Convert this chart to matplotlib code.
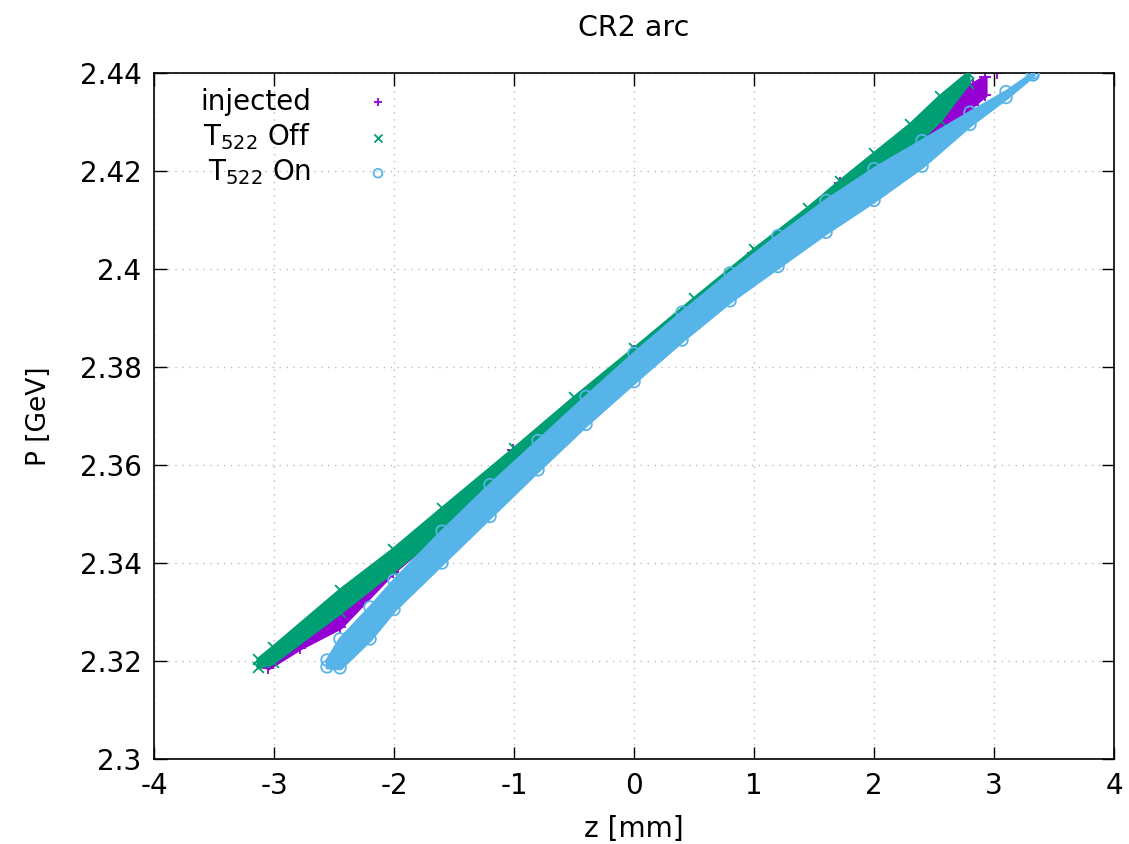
import matplotlib
matplotlib.use("Agg")
import matplotlib.pyplot as plt

# edges of each scattered band: z [mm], P [GeV]
inj_z = [-3.05, -2.783, -2.45, -2.008, -1.008, 0.0, 0.992, 1.717, 2.217, 2.55, 2.825, 2.925]
inj_hi = [2.3200, 2.3262, 2.3335, 2.3415, 2.3630, 2.3832, 2.4032, 2.4175, 2.4262, 2.4325, 2.4378, 2.4392]
inj_lo = [2.3186, 2.3227, 2.3269, 2.3382, 2.3590, 2.3785, 2.3985, 2.4125, 2.4222, 2.4278, 2.4335, 2.4355]
inj_extra_z = [3.025]
inj_extra_p = [2.4400]

off_z = [-3.133, -3.008, -2.45, -2.008, -1.6, -1.0, -0.5, 0.0, 0.5, 1.0, 1.45, 1.717, 2.0, 2.3, 2.55, 2.783]
off_hi = [2.3204, 2.3229, 2.3345, 2.3428, 2.3512, 2.3634, 2.3738, 2.3838, 2.3940, 2.4040, 2.4125, 2.4180, 2.4236, 2.4295, 2.4353, 2.4400]
off_lo = [2.3188, 2.3198, 2.3300, 2.3385, 2.3465, 2.3590, 2.3690, 2.3790, 2.3890, 2.3990, 2.4080, 2.4130, 2.4185, 2.4245, 2.4305, 2.4380]

on_z = [-2.558, -2.45, -2.2, -2.0, -1.6, -1.2, -0.8, -0.4, 0.0, 0.4, 0.8, 1.2, 1.6, 2.0, 2.4, 2.8, 3.1, 3.325]
on_hi = [2.3202, 2.3245, 2.3310, 2.3365, 2.3465, 2.3560, 2.3650, 2.3740, 2.3828, 2.3912, 2.3992, 2.4068, 2.4140, 2.4205, 2.4262, 2.4320, 2.4362, 2.4400]
on_lo = [2.3188, 2.3186, 2.3245, 2.3305, 2.3400, 2.3495, 2.3590, 2.3683, 2.3770, 2.3855, 2.3935, 2.4005, 2.4075, 2.4140, 2.4210, 2.4295, 2.4350, 2.4396]

xticks = [-4, -3, -2, -1, 0, 1, 2, 3, 4]
yticks = [2.3, 2.32, 2.34, 2.36, 2.38, 2.4, 2.42, 2.44]
ytick_labels = ["2.3", "2.32", "2.34", "2.36", "2.38", "2.4", "2.42", "2.44"]

c_inj = "#9400d3"
c_off = "#009e73"
c_on = "#56b4e9"

fig = plt.figure(figsize=(11.29, 8.44), dpi=100)
ax = fig.add_axes([154 / 1129, 1 - 759 / 844, 960 / 1129, 686 / 844])

# injected
ax.fill_between(inj_z, inj_lo, inj_hi, color=c_inj, lw=3, zorder=2)
ax.scatter(inj_z + inj_z + inj_extra_z, inj_hi + inj_lo + inj_extra_p, marker="+",
           s=70, color=c_inj, linewidths=1.3, zorder=2, label="injected")
# T522 off
ax.fill_between(off_z, off_lo, off_hi, color=c_off, lw=3, zorder=3)
ax.scatter(off_z + off_z, off_hi + off_lo, marker="x", s=60, color=c_off,
           linewidths=1.3, zorder=3, label=r"T$_{522}$ Off")
# T522 on
ax.fill_between(on_z, on_lo, on_hi, color=c_on, lw=3, zorder=4)
ax.scatter(on_z + on_z, on_hi + on_lo, marker="o", s=70, facecolors="none",
           edgecolors=c_on, linewidths=1.3, zorder=4, label=r"T$_{522}$ On")

ax.set_xlim(-4, 4)
ax.set_ylim(2.3, 2.44)
ax.set_xticks(xticks)
ax.set_xticklabels([str(t) for t in xticks])
ax.set_yticks(yticks)
ax.set_yticklabels(ytick_labels)
ax.tick_params(direction="in", length=9, width=1, top=True, right=True,
               labelsize=20, pad=9)
ax.grid(True, color="#bbbbbb", linestyle=(0, (1, 4)), linewidth=1)
for s in ax.spines.values():
    s.set_linewidth(1.2)

ax.set_xlabel("z [mm]", fontsize=20, labelpad=11)
ax.set_ylabel("P [GeV]", fontsize=19, labelpad=20)
ax.set_title("CR2 arc", fontsize=20.5, pad=27)

leg = ax.legend(loc="upper left", bbox_to_anchor=(0.031, 1.003), frameon=False,
                markerfirst=False, fontsize=20, handletextpad=1.4,
                labelspacing=0.2, markerscale=0.75, borderaxespad=0.2)

fig.savefig("out.png", dpi=100)
